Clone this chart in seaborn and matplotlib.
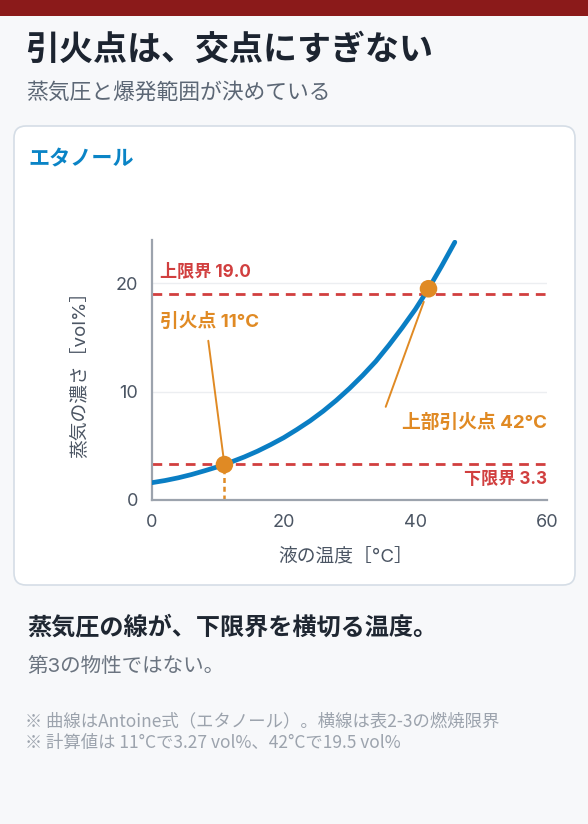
import matplotlib
matplotlib.use("Agg")
import matplotlib.pyplot as plt
import seaborn as sns
import pandas as pd
from matplotlib.patches import Rectangle, FancyBboxPatch

# 読み取った値（エタノールの蒸気濃度曲線）
temps = [0, 2, 4, 6, 8, 10, 12, 14, 16, 18, 20, 22, 24, 26, 28, 30,
         32, 34, 36, 38, 40, 42, 44, 46]
conc = [1.6, 1.8, 2.05, 2.35, 2.7, 3.07, 3.5, 3.97, 4.5, 5.1, 5.75, 6.5,
        7.3, 8.2, 9.2, 10.3, 11.5, 12.8, 14.3, 15.9, 17.6, 19.5, 21.6, 23.8]

# 燃焼限界
lower_limit = 3.3
upper_limit = 19.0

# 引火点・上部引火点
flash_temps = [11, 42]
flash_conc = [3.27, 19.5]

x_ticks = [0, 20, 40, 60]
y_ticks = [0, 10, 20]

BLUE = "#0a7ec4"
ORANGE = "#e08a24"
RED = "#d13f3f"
AXIS = "#9ca3ad"
TICK = "#4b5563"

sns.set_theme(style="white")
plt.rcParams["font.family"] = ["Inter", "Noto Sans CJK JP", "DejaVu Sans"]
CJK_FIRST = ["Noto Sans CJK JP", "DejaVu Sans"]

fig = plt.figure(figsize=(5.88, 8.24), dpi=100)
fig.patch.set_facecolor("#f7f8fa")

# 背景用の軸（ピクセル座標）
bg = fig.add_axes([0, 0, 1, 1], zorder=0)
bg.set_xlim(0, 588)
bg.set_ylim(824, 0)
bg.axis("off")
bg.add_patch(Rectangle((0, 0), 588, 16, color="#8b1a1a", lw=0))
bg.add_patch(FancyBboxPatch((14, 126), 561, 459,
                            boxstyle="round,pad=0,rounding_size=12",
                            fc="white", ec="#d5dde6", lw=1.2))

bg.text(25, 51, "引火点は、交点にすぎない", fontsize=24.5, fontweight="bold",
        color="#1c2430", va="center")
bg.text(26, 92, "蒸気圧と爆発範囲が決めている", fontsize=15.7,
        color="#5c6775", va="center")
bg.text(28, 159, "エタノール", fontsize=15.2, fontweight="bold",
        color="#0a84c6", va="center")
bg.text(27, 628, "蒸気圧の線が、下限界を横切る温度。", fontsize=17.4,
        fontweight="bold", color="#1f2732", va="center")
bg.text(27, 666, "第3の物性ではない。", fontsize=14.8, color="#6b7480",
        va="center")
bg.text(25, 721, "※ 曲線はAntoine式（エタノール）。横線は表2-3の燃焼限界",
        fontsize=12.5, color="#9ca3ad", va="center", family=CJK_FIRST)
bg.text(25, 743, "※ 計算値は 11°Cで3.27 vol%、42°Cで19.5 vol%",
        fontsize=12.5, color="#9ca3ad", va="center", family=CJK_FIRST)

# グラフ本体
ax = fig.add_axes([152 / 588, 324 / 824, 395 / 588, 260 / 824], zorder=1)
ax.set_facecolor("none")

curve = pd.DataFrame({"temp": temps, "conc": conc})
ax.grid(axis="y", color="#eceef1", lw=1)
ax.axhline(lower_limit, color=RED, lw=2, ls=(0, (3.5, 2.5)), zorder=2)
ax.axhline(upper_limit, color=RED, lw=2, ls=(0, (3.5, 2.5)), zorder=2)
sns.lineplot(data=curve, x="temp", y="conc", ax=ax, color=BLUE, lw=3.4,
             zorder=3)
ax.vlines(flash_temps[0], 0, flash_conc[0], color=ORANGE, lw=1.8,
          ls=(0, (2, 1.5)), zorder=2)
sns.scatterplot(x=flash_temps, y=flash_conc, ax=ax, color=ORANGE, s=160,
                edgecolor="none", zorder=5)

# 引き出し線
ax.annotate("", xy=(flash_temps[0], flash_conc[0]), xytext=(8.55, 14.7),
            arrowprops=dict(arrowstyle="-", color=ORANGE, lw=1.4,
                            shrinkA=0, shrinkB=6))
ax.annotate("", xy=(flash_temps[1], flash_conc[1]), xytext=(35.5, 8.6),
            arrowprops=dict(arrowstyle="-", color=ORANGE, lw=1.4,
                            shrinkA=0, shrinkB=10))

ax.text(1.2, 21.0, f"上限界 {upper_limit:.1f}", color=RED, fontsize=12.3,
        fontweight="bold", va="center")
ax.text(60, 1.9, f"下限界 {lower_limit:.1f}", color=RED, fontsize=12.3,
        fontweight="bold", va="center", ha="right")
ax.text(1.2, 16.4, f"引火点 {flash_temps[0]}°C", color=ORANGE, fontsize=13.5,
        fontweight="bold", va="center")
ax.text(60, 7.1, f"上部引火点 {flash_temps[1]}°C", color=ORANGE, fontsize=13.5,
        fontweight="bold", va="center", ha="right")

ax.set_xlim(0, 60)
ax.set_ylim(0, 24)
ax.set_xticks(x_ticks)
ax.set_yticks(y_ticks)
ax.tick_params(length=0, pad=10, labelsize=13, labelcolor=TICK)
for side in ["top", "right"]:
    ax.spines[side].set_visible(False)
for side in ["left", "bottom"]:
    ax.spines[side].set_color(AXIS)
    ax.spines[side].set_linewidth(1.6)

ax.set_xlabel("液の温度［°C］", fontsize=13.5, color=TICK)
ax.set_ylabel("蒸気の濃さ［vol%］", fontsize=13.5, color=TICK)
ax.xaxis.set_label_coords(0.49, -0.185)
ax.yaxis.set_label_coords(-0.162, 0.5)

fig.savefig("out.png", dpi=100, facecolor=fig.get_facecolor())
